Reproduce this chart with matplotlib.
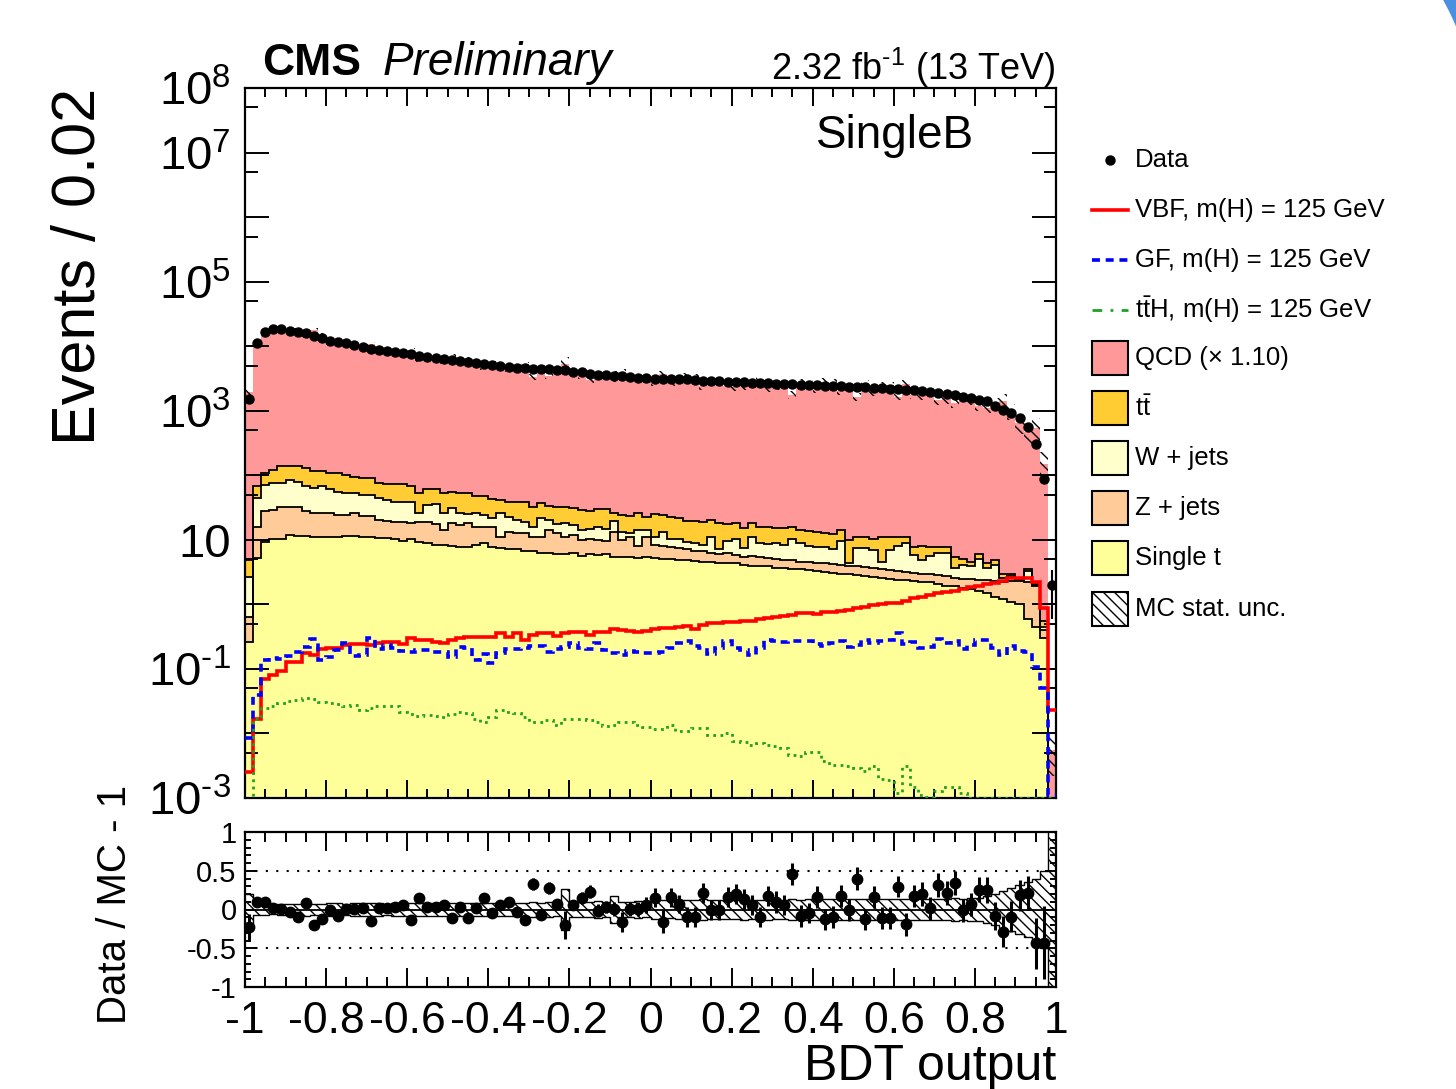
import numpy as np
import matplotlib
matplotlib.use("Agg")
import matplotlib.pyplot as plt
from matplotlib.patches import Rectangle, Wedge
from matplotlib.lines import Line2D
from matplotlib.ticker import FixedLocator, LogLocator, FuncFormatter, NullFormatter, MultipleLocator

plt.rcParams["font.family"] = ["Liberation Sans", "DejaVu Sans"]
plt.rcParams["mathtext.fontset"] = "custom"
plt.rcParams["mathtext.rm"] = "Liberation Sans"
plt.rcParams["mathtext.it"] = "Liberation Sans:italic"
plt.rcParams["mathtext.bf"] = "Liberation Sans:bold"
plt.rcParams["axes.unicode_minus"] = False
plt.rcParams["hatch.linewidth"] = 1.0
plt.rcParams["hatch.color"] = "black"

# %% binning: 100 bins of 0.02 in BDT output
edges = np.linspace(-1.0, 1.0, 101)

# %% values (events / bin)
data_counts = [
    1500, 11350, 16800, 18200, 18400, 17400, 16400, 15800, 14400, 13200,
    12200, 11500, 11100, 10400, 9850, 9170, 8740, 8540, 8240, 7760,
    7490, 7050, 6720, 6490, 6260, 6110, 5900, 5690, 5430, 5300,
    5120, 5000, 4820, 4600, 4520, 4450, 4400, 4380, 4350, 4250,
    4040, 3950, 3720, 3580, 3540, 3460, 3400, 3300, 3180, 3180,
    3140, 3140, 3110, 3080, 3080, 3000, 2930, 2900, 2860, 2830,
    2800, 2760, 2730, 2700, 2670, 2600, 2600, 2570, 2540, 2510,
    2480, 2450, 2430, 2400, 2340, 2310, 2310, 2260, 2230, 2200,
    2150, 2100, 2080, 2030, 1960, 1910, 1820, 1760, 1660, 1560,
    1470, 1390, 1190, 1030, 915, 765, 569, 306, 87, 2,
]

# cumulative stack heights (top of each filled layer)
stack_qcd = [
    1930, 10310, 15260, 17930, 18360, 17900, 18100, 14520, 18000, 15050,
    12270, 12500, 11080, 10380, 9700, 10760, 8610, 8410, 8020, 7330,
    8660, 6160, 6480, 6310, 5920, 6900, 5740, 6360, 5350, 4630,
    5350, 4730, 4380, 4730, 5230, 3350, 4740, 3420, 4060, 5310,
    3820, 3450, 3020, 3630, 3440, 3450, 4030, 3290, 3170, 3010,
    2720, 3730, 2690, 2870, 3400, 3320, 2410, 2920, 2880, 2430,
    2330, 2420, 2580, 2980, 2270, 2370, 2460, 1760, 2780, 2630,
    2130, 2810, 2700, 2050, 2350, 1650, 2650, 1950, 2500, 2470,
    1660, 2600, 1770, 1690, 1930, 1450, 1500, 1310, 1680, 1460,
    1170, 1110, 1300, 1440, 1010, 645, 471, 544, 152, 0.0055,
]
stack_ttbar = [
    4.9, 67, 110, 121, 141, 141, 141, 128, 118, 118,
    107, 107, 101, 95, 90, 90, 77, 73, 73, 73,
    67, 54, 61, 61, 53, 56, 53, 53, 48, 47,
    42.5, 41.5, 39, 39, 39, 32.7, 36.8, 33.5, 32.7, 31.9,
    30.8, 29, 28.3, 29.7, 29.7, 25.8, 24.3, 23.4, 25.8, 22.9,
    25.2, 24.3, 22.3, 21.6, 19.8, 19.8, 19.1, 20.3, 18.5, 17.6,
    18.5, 15.1, 18.5, 16.0, 15.6, 15.1, 15.1, 16.0, 14.2, 13.9,
    13.4, 12.6, 12.3, 14.2, 9.95, 10.9, 11.2, 10.2, 10.9, 11.2,
    10.9, 10.9, 7.85, 8.0, 7.85, 7.85, 7.7, 5.4, 5.1, 4.6,
    6.0, 4.35, 4.8, 2.96, 3.0, 2.6, 3.5, 2.1, 0.56, 0.0008,
]
stack_wjets = [
    2.65, 44, 71, 77, 77, 85, 80, 68, 63, 67,
    61, 56, 54, 54, 50, 50, 44, 41.5, 39, 39,
    39, 25.8, 34.7, 36, 25.8, 30.8, 26.4, 25.2, 25.8, 24.3,
    21.6, 25.8, 22.3, 20.3, 19.1, 15.6, 21.6, 20.3, 17.6, 18.5,
    17.0, 14.2, 14.6, 16.0, 14.6, 19.8, 13.4, 12.6, 14.2, 14.2,
    11.2, 13.4, 10.2, 10.2, 9.4, 8.8, 8.3, 11.2, 7.1, 9.7,
    10.2, 7.4, 11.2, 8.8, 8.6, 9.05, 8.3, 10.2, 9.05, 8.0,
    7.85, 7.85, 7.1, 9.7, 4.35, 7.4, 7.4, 7.0, 4.6, 7.0,
    8.0, 8.8, 5.8, 4.9, 5.6, 6.2, 6.3, 3.6, 4.1, 3.9,
    5.1, 3.6, 4.1, 2.6, 2.75, 2.4, 3.3, 2.0, 0.45, 0.0007,
]
stack_zjets = [
    0.64, 16, 28.3, 29, 31.9, 32.7, 31.9, 28.3, 25.8, 26.4,
    26.4, 24.3, 24.3, 25.8, 23.4, 23.4, 20.3, 19.8, 19.1, 19.1,
    18.5, 19.1, 19.1, 17.6, 14.2, 18.5, 17.0, 18.0, 15.6, 15.6,
    16.0, 10.9, 13.4, 12.6, 12.6, 11.2, 10.9, 14.2, 12.6, 11.2,
    11.9, 9.95, 10.2, 9.95, 9.7, 13.4, 9.95, 11.2, 8.0, 10.9,
    8.3, 8.0, 7.7, 7.4, 7.1, 6.8, 6.6, 6.3, 6.0, 6.2,
    5.8, 5.5, 5.6, 5.4, 5.2, 5.0, 4.9, 4.8, 4.6, 4.6,
    4.45, 4.35, 4.25, 4.1, 3.95, 3.9, 3.8, 3.6, 3.5, 3.4,
    3.3, 3.2, 3.1, 3.0, 2.95, 2.85, 2.75, 2.6, 2.5, 2.45,
    2.4, 2.35, 2.3, 2.25, 2.3, 2.3, 2.2, 1.9, 0.4, 0.0006,
]
stack_singlet = [
    0.26, 5.2, 9.4, 10.2, 10.2, 11.9, 11.5, 11.5, 11.2, 11.2,
    11.2, 11.2, 11.5, 11.5, 11.2, 11.2, 10.6, 10.6, 10.2, 9.7,
    10.2, 9.4, 8.8, 8.3, 8.3, 8.0, 7.85, 7.7, 8.3, 9.05,
    7.85, 7.4, 7.1, 7.1, 6.8, 6.6, 6.3, 6.2, 6.0, 6.0,
    6.2, 5.6, 6.0, 5.8, 6.0, 5.5, 5.4, 5.4, 5.2, 5.4,
    5.2, 5.1, 5.0, 4.9, 4.8, 4.7, 4.6, 4.5, 4.4, 4.3,
    4.3, 4.1, 4.0, 3.9, 3.9, 3.7, 3.6, 3.5, 3.5, 3.4,
    3.3, 3.2, 3.1, 3.0, 3.0, 2.9, 2.8, 2.7, 2.6, 2.5,
    2.4, 2.4, 2.3, 2.2, 2.2, 2.1, 1.9, 1.9, 1.8, 1.7,
    1.6, 1.5, 1.3, 1.2, 1.1, 1.0, 0.6, 0.45, 0.3, 0.0005,
]

sig_vbf = [
    0.0025, 0.017, 0.069, 0.081, 0.094, 0.129, 0.129, 0.179, 0.164, 0.20,
    0.21, 0.21, 0.235, 0.244, 0.244, 0.235, 0.249, 0.265, 0.265, 0.244,
    0.298, 0.281, 0.281, 0.26, 0.255, 0.281, 0.298, 0.31, 0.316, 0.316,
    0.31, 0.356, 0.316, 0.365, 0.285, 0.336, 0.356, 0.356, 0.324, 0.365,
    0.378, 0.378, 0.336, 0.37, 0.37, 0.41, 0.40, 0.392, 0.378, 0.39,
    0.41, 0.426, 0.426, 0.44, 0.46, 0.41, 0.48, 0.51, 0.51, 0.53,
    0.54, 0.56, 0.56, 0.59, 0.61, 0.63, 0.66, 0.685, 0.73, 0.73,
    0.71, 0.77, 0.77, 0.80, 0.82, 0.87, 0.92, 0.98, 1.01, 1.04,
    1.06, 1.14, 1.24, 1.32, 1.40, 1.49, 1.58, 1.63, 1.71, 1.84,
    1.93, 2.07, 2.17, 2.33, 2.54, 2.54, 2.54, 2.22, 0.88, 0.023,
]
sig_gf = [
    0.0084, 0.04, 0.137, 0.146, 0.14, 0.158, 0.185, 0.22, 0.288, 0.137,
    0.151, 0.196, 0.25, 0.158, 0.163, 0.298, 0.2, 0.235, 0.21, 0.19,
    0.185, 0.196, 0.196, 0.185, 0.185, 0.151, 0.22, 0.21, 0.137, 0.17,
    0.125, 0.178, 0.205, 0.205, 0.21, 0.226, 0.226, 0.18, 0.205, 0.22,
    0.25, 0.21, 0.2, 0.25, 0.196, 0.178, 0.165, 0.19, 0.185, 0.178,
    0.174, 0.185, 0.21, 0.25, 0.27, 0.227, 0.209, 0.17, 0.209, 0.274,
    0.209, 0.197, 0.164, 0.209, 0.281, 0.27, 0.265, 0.27, 0.274, 0.274,
    0.244, 0.229, 0.249, 0.274, 0.22, 0.235, 0.281, 0.25, 0.27, 0.281,
    0.356, 0.24, 0.265, 0.209, 0.22, 0.288, 0.249, 0.274, 0.20, 0.235,
    0.281, 0.281, 0.209, 0.164, 0.229, 0.19, 0.185, 0.108, 0.05, 0.0011,
]
sig_tth = [
    0.0005, 0.017, 0.0245, 0.0267, 0.030, 0.032, 0.033, 0.036, 0.034, 0.031,
    0.030, 0.029, 0.027, 0.028, 0.023, 0.025, 0.027, 0.027, 0.027, 0.0218,
    0.0198, 0.0187, 0.019, 0.0187, 0.0178, 0.0198, 0.0215, 0.0205, 0.0166, 0.0153,
    0.018, 0.0235, 0.0218, 0.021, 0.018, 0.0153, 0.015, 0.0162, 0.0136, 0.0166,
    0.017, 0.0166, 0.0162, 0.0153, 0.0132, 0.0136, 0.0153, 0.015, 0.0136, 0.0128,
    0.0117, 0.0117, 0.0136, 0.0111, 0.0111, 0.012, 0.012, 0.0095, 0.0095, 0.0101,
    0.0077, 0.0075, 0.0066, 0.0070, 0.0066, 0.0063, 0.0059, 0.0046, 0.0044, 0.0052,
    0.0052, 0.0037, 0.0033, 0.0033, 0.0031, 0.0029, 0.0026, 0.0031, 0.0020, 0.0019,
    0.0012, 0.0031, 0.0015, 0.0011, 0.00105, 0.0013, 0.0015, 0.0015, 0.0012, 0.001,
    0.001, 0.001, 0.001, 0.001, 0.001, 0.001, 0.001, 0.001, 0.001, 0.001,
]

# relative MC stat. uncertainty and ratio error bars (read from lower pad)
mc_relerr = [
    0.20, 0.07, 0.07, 0.06, 0.07, 0.07, 0.07, 0.08, 0.07, 0.07,
    0.08, 0.08, 0.07, 0.08, 0.08, 0.08, 0.08, 0.07, 0.08, 0.08,
    0.08, 0.08, 0.08, 0.08, 0.09, 0.08, 0.08, 0.08, 0.09, 0.08,
    0.09, 0.09, 0.09, 0.09, 0.09, 0.1, 0.09, 0.1, 0.09, 0.27,
    0.1, 0.1, 0.1, 0.11, 0.1, 0.18, 0.1, 0.1, 0.11, 0.1,
    0.12, 0.12, 0.11, 0.12, 0.12, 0.12, 0.13, 0.12, 0.12, 0.12,
    0.12, 0.13, 0.12, 0.12, 0.13, 0.12, 0.12, 0.13, 0.12, 0.13,
    0.13, 0.13, 0.13, 0.13, 0.13, 0.14, 0.13, 0.13, 0.13, 0.14,
    0.13, 0.14, 0.13, 0.14, 0.14, 0.14, 0.14, 0.15, 0.14, 0.15,
    0.15, 0.17, 0.2, 0.24, 0.28, 0.32, 0.36, 0.4, 0.5, 5.0,
]
ratio_err = [
    0.17, 0.03, 0.03, 0.03, 0.03, 0.03, 0.03, 0.04, 0.05, 0.04,
    0.04, 0.04, 0.04, 0.04, 0.04, 0.05, 0.04, 0.04, 0.05, 0.05,
    0.06, 0.05, 0.05, 0.05, 0.05, 0.06, 0.05, 0.06, 0.05, 0.06,
    0.06, 0.06, 0.06, 0.06, 0.07, 0.08, 0.07, 0.08, 0.07, 0.18,
    0.07, 0.08, 0.08, 0.08, 0.08, 0.09, 0.13, 0.09, 0.09, 0.1,
    0.12, 0.15, 0.12, 0.12, 0.13, 0.13, 0.13, 0.13, 0.13, 0.13,
    0.13, 0.13, 0.13, 0.13, 0.13, 0.14, 0.13, 0.14, 0.14, 0.13,
    0.14, 0.14, 0.14, 0.14, 0.14, 0.15, 0.14, 0.14, 0.14, 0.14,
    0.14, 0.15, 0.14, 0.15, 0.15, 0.15, 0.15, 0.15, 0.15, 0.15,
    0.16, 0.17, 0.18, 0.2, 0.2, 0.2, 0.22, 0.33, 0.47, 0.0,
]

xtick_vals = [-1, -0.8, -0.6, -0.4, -0.2, 0, 0.2, 0.4, 0.6, 0.8, 1]
xtick_labels = ["-1", "-0.8", "-0.6", "-0.4", "-0.2", "0", "0.2", "0.4", "0.6", "0.8", "1"]
ytick_labelled = [8, 7, 5, 3, 1, -1, -3]
rtick_vals = [-1, -0.5, 0, 0.5, 1]
rtick_labels = ["-1", "-0.5", "0", "0.5", "1"]

# %% colours
colQCD = "#ff9999"
colTT = "#ffcc33"
colW = "#ffffcc"
colZ = "#ffcc99"
colST = "#ffff99"

W, H = 1456, 1089
fig = plt.figure(figsize=(W / 100, H / 100), dpi=100)
ax = fig.add_axes([245 / W, 1 - 798 / H, 811 / W, 710 / H])
rax = fig.add_axes([245 / W, 1 - 987 / H, 811 / W, 155 / H])
ov = fig.add_axes([0, 0, 1, 1], zorder=10)
ov.set_xlim(0, W)
ov.set_ylim(H, 0)
ov.axis("off")
ov.patch.set_alpha(0)

centers = 0.5 * (edges[1:] + edges[:-1])
data = np.array(data_counts, dtype=float)
mc = np.array(stack_qcd, dtype=float)
relerr = np.array(mc_relerr)

# %% main pad
for vals, col in [(stack_qcd, colQCD), (stack_ttbar, colTT), (stack_wjets, colW),
                  (stack_zjets, colZ), (stack_singlet, colST)]:
    ax.stairs(vals, edges, baseline=1e-6, fill=True, facecolor=col, edgecolor="none", lw=0)
for vals in [stack_ttbar, stack_wjets, stack_zjets, stack_singlet]:
    ax.stairs(vals, edges, baseline=None, color="black", lw=1.3)

# MC stat band (main pad, relative error capped for display)
band = np.minimum(relerr, 0.6)
lo = np.append(mc * (1 - band), mc[-1])
hi = np.append(mc * (1 + band), mc[-1])
ax.fill_between(edges, lo, hi, step="post", facecolor="none", edgecolor="black",
                hatch="\\\\\\", lw=0, zorder=3)

ax.stairs(sig_vbf, edges, baseline=None, color="#ff0000", lw=2.6, zorder=4)
ax.stairs(sig_gf, edges, baseline=None, color="#0000ff", lw=2.6, linestyle=(0, (2.2, 1.6)), zorder=4)
ax.stairs(sig_tth, edges, baseline=None, color="#22a022", lw=2.0, linestyle=(0, (1, 1.6)), zorder=4)

ax.errorbar(centers, data, yerr=np.sqrt(data), fmt="o", color="black", ms=6.5,
            elinewidth=1.5, capsize=0, zorder=5)

ax.set_yscale("log")
ax.set_ylim(1e-3, 1e8)
ax.set_xlim(-1, 1)
ax.yaxis.set_major_locator(LogLocator(base=10, numticks=20))
ax.yaxis.set_minor_locator(LogLocator(base=10, subs=(5,), numticks=20))


def fmt_log(v, pos):
    e = int(round(np.log10(v)))
    if e not in ytick_labelled:
        return ""
    if e == 1:
        return "10"
    return r"$10^{\text{%d}}$" % e


ax.yaxis.set_major_formatter(FuncFormatter(fmt_log))
ax.yaxis.set_minor_formatter(NullFormatter())
ax.xaxis.set_major_locator(FixedLocator(xtick_vals))
ax.xaxis.set_minor_locator(MultipleLocator(0.05))
ax.tick_params(which="both", direction="in", top=True, right=True, width=1.4)
ax.tick_params(axis="x", which="major", length=13, labelbottom=False)
ax.tick_params(axis="x", which="minor", length=6.5)
ax.tick_params(axis="y", which="major", length=17, labelsize=34, pad=10)
ax.tick_params(axis="y", which="minor", length=9)
for s in ax.spines.values():
    s.set_linewidth(1.6)

# %% ratio pad
ratio = data / mc - 1
rax.fill_between(edges, np.append(-relerr, -relerr[-1]), np.append(relerr, relerr[-1]), step="post",
                 facecolor="none", edgecolor="black", hatch="\\\\\\", lw=0)
rax.stairs(relerr, edges, baseline=None, color="black", lw=1.0)
rax.stairs(-relerr, edges, baseline=None, color="black", lw=1.0)
rax.axhline(0, color="black", lw=1.3)
for yv in (0.5, -0.5):
    rax.axhline(yv, color="black", lw=1.5, linestyle=(0, (1, 4)))
rax.errorbar(centers, ratio, yerr=ratio_err, fmt="o", color="black", ms=7.5,
             elinewidth=2.2, capsize=0, zorder=5)
rax.set_xlim(-1, 1)
rax.set_ylim(-1, 1)
rax.xaxis.set_major_locator(FixedLocator(xtick_vals))
rax.set_xticklabels(xtick_labels)
rax.xaxis.set_minor_locator(MultipleLocator(0.05))
rax.yaxis.set_major_locator(FixedLocator(rtick_vals))
rax.set_yticklabels(rtick_labels)
rax.yaxis.set_minor_locator(MultipleLocator(0.1))
rax.tick_params(which="both", direction="in", top=True, right=True, width=1.4)
rax.tick_params(axis="x", which="major", length=14, labelsize=32, pad=10)
rax.tick_params(axis="x", which="minor", length=7)
rax.tick_params(axis="y", which="major", length=8, labelsize=21, pad=6)
rax.tick_params(axis="y", which="minor", length=4)
for s in rax.spines.values():
    s.set_linewidth(1.6)

# %% texts
ov.text(262, 75, "CMS", fontsize=32, fontweight="bold", va="baseline", ha="left")
ov.text(383, 75, "Preliminary", fontsize=33, fontstyle="italic", va="baseline", ha="left")
ov.text(1056, 80, r"2.32 fb$^{\text{-1}}$ (13 TeV)", fontsize=26, va="baseline", ha="right")
ov.text(895, 148, "SingleB", fontsize=33, va="baseline", ha="center")
ov.text(80, 88, "Events / 0.02", fontsize=44, rotation=90, ha="center", va="top")
ov.text(115, 785, "Data / MC - 1", fontsize=29, rotation=90, ha="center", va="top")
ov.text(1056, 1080, "BDT output", fontsize=36, va="baseline", ha="right")

# %% legend
lx0, lx1, tx = 1092, 1128, 1135
ov.plot([1110], [160], "o", color="black", ms=6.5)
ov.add_line(Line2D([lx0, lx1], [210, 210], color="#ff0000", lw=2.6))
ov.add_line(Line2D([lx0, lx1], [260, 260], color="#0000ff", lw=2.6, linestyle=(0, (2.2, 1.6))))
ov.add_line(Line2D([lx0, lx1], [310, 310], color="#22a022", lw=2.0, linestyle=(0, (3.5, 3, 1, 3))))
legend_boxes = [(358, colQCD, None), (408, colTT, None), (458, colW, None),
                (508, colZ, None), (558, colST, None), (609, "white", "\\\\\\")]
for yc, col, hatch in legend_boxes:
    ov.add_patch(Rectangle((lx0, yc - 17), lx1 - lx0, 34, facecolor=col, edgecolor="black",
                           lw=1.5, hatch=hatch))
legend_texts = [(160, "Data"), (210, "VBF, m(H) = 125 GeV"), (260, "GF, m(H) = 125 GeV"),
                (310, r"t$\bar{\rm t}$H, m(H) = 125 GeV"), (358, "QCD (\u00d7 1.10)"),
                (408, r"t$\bar{\rm t}$"), (458, "W + jets"), (508, "Z + jets"),
                (558, "Single t"), (609, "MC stat. unc.")]
for yc, txt in legend_texts:
    ov.text(tx, yc, txt, fontsize=18.5, va="center", ha="left")

# stray blue arc in the upper right corner of the screenshot
ov.add_patch(Wedge((1180, 144), 340, -45, -5, width=40, facecolor="#4a90e2", edgecolor="none"))

fig.savefig("out.png", dpi=100, facecolor="white")
